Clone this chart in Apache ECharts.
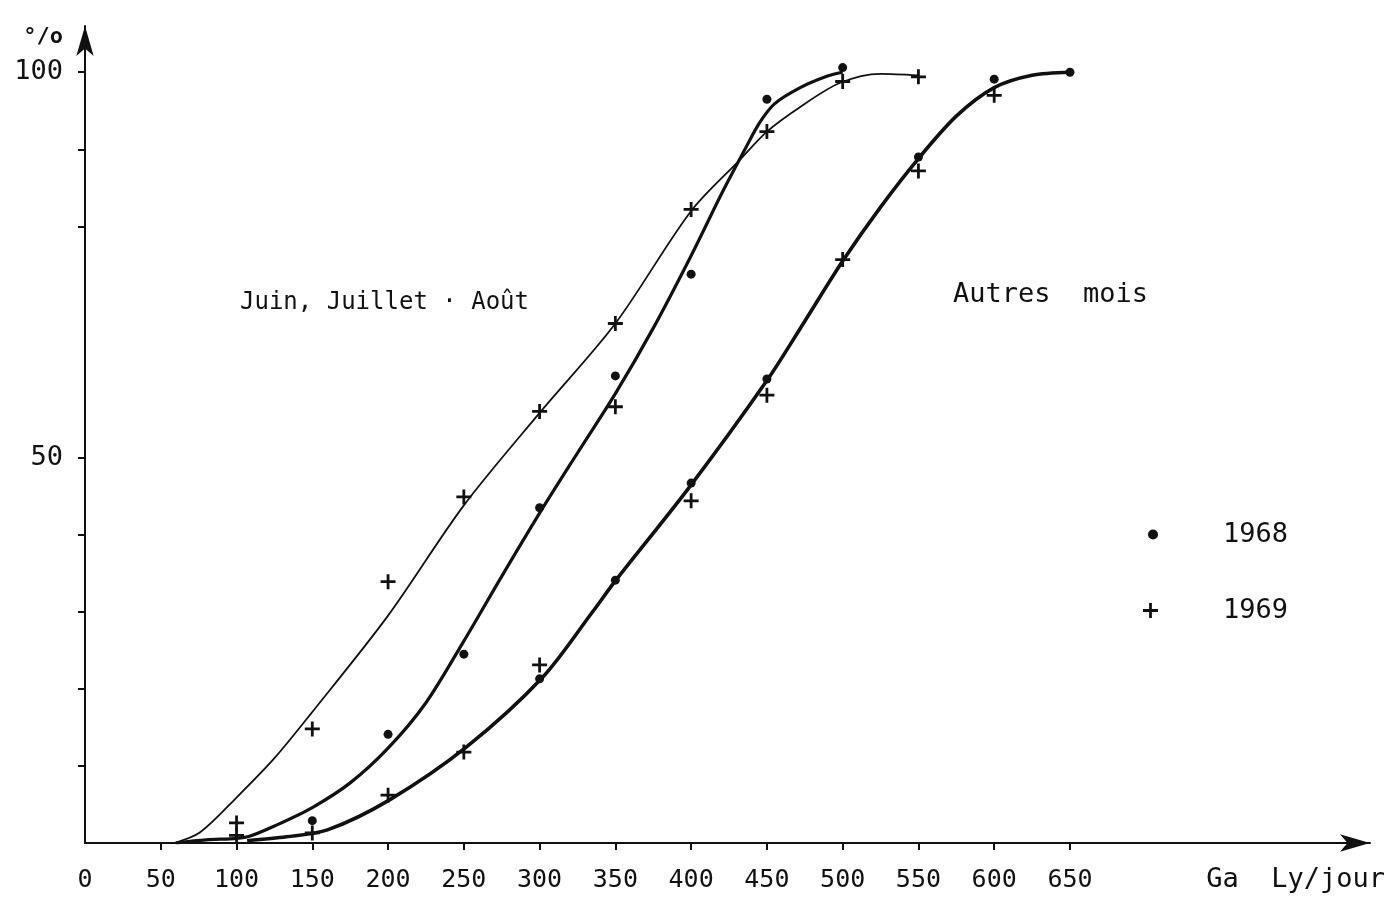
<!DOCTYPE html>
<html>
<head>
<meta charset="utf-8">
<script src="https://cdn.jsdelivr.net/npm/echarts@6/dist/echarts.min.js"></script>
<style>
html,body{margin:0;padding:0;background:#fff;}
#chart{width:1392px;height:898px;}
</style>
</head>
<body>
<div id="chart"></div>
<script>
// ---- data ----
const xTickValues = [50,100,150,200,250,300,350,400,450,500,550,600,650];
const xLabelValues = [0,50,100,150,200,250,300,350,400,450,500,550,600,650];
const yTickValues = [10,20,30,40,50,80,90,100];
const yLabelValues = [50,100];

// fitted curves (x = Ga Ly/jour, y = %)
const curveJuinThin = [[59,0],[76,1.4],[100,5.9],[125,11],[150,17],[200,29.5],[250,43.8],[300,55.8],[350,67.4],[400,82],[432,88.6],[450,92.3],[472,95.5],[498,98.6],[525,99.8],[550,99.6]];
const curveJuinThick = [[60,0],[80,0.4],[100,0.6],[109,0.9],[125,2.2],[150,4.6],[175,7.8],[200,12.3],[225,18.2],[250,26.2],[275,34.6],[300,42.8],[325,50.6],[350,58.3],[375,66.8],[400,76.2],[420,84.2],[435,89.8],[445,93.4],[455,95.9],[472,98],[490,99.5],[500,100]];
const curveAutres = [[107,0.3],[133,0.8],[160,1.7],[201,5.6],[252,12.5],[302,21.5],[335,30],[350,34],[399,46.2],[450,60],[475,67.7],[500,75.5],[525,82.5],[550,88.8],[575,94.3],[600,98],[625,99.6],[650,100]];

// observed points
const dots1968 = [[150,2.9],[200,14.1],[250,24.5],[300,43.5],[350,60.6],[400,73.8],[450,96.5],[500,100.6],
                  [300,21.3],[350,34.1],[400,46.7],[450,60.2],[550,89.0],[600,99.1],[650,100]];
const crosses1969 = [[100,2.6],[150,14.8],[200,33.9],[250,44.9],[300,56.0],[350,67.4],[400,82.2],[450,92.3],[500,98.8],[550,99.4],
                     [350,56.6],
                     [100,1.0],[150,1.3],[200,6.2],[250,11.8],[300,23.1],[400,44.4],[450,58.1],[500,75.7],[550,87.2],[600,97.0]];

const seriesNames = ['1968','1969'];
const labelJuin = 'Juin, Juillet · Août';
const labelAutres = 'Autres  mois';
const xName = 'Ga  Ly/jour';
const yName = '°/o';

// ---- chart ----
const FONT = '"DejaVu Sans Mono", monospace';
const INK = '#111';
const crossPath = 'path://M-1.3,-7H1.3V-1.3H7V1.3H1.3V7H-1.3V1.3H-7V-1.3H-1.3Z';

const chart = echarts.init(document.getElementById('chart'), null, {renderer:'canvas'});
chart.setOption({
  animation:false,
  backgroundColor:'#fff',
  grid:{left:85, right:22, top:26, bottom:55, containLabel:false},
  xAxis:{
    type:'value', min:0, max:848,
    name:xName, nameLocation:'end', nameGap:15,
    nameTextStyle:{color:INK, fontFamily:FONT, fontSize:27, align:'right', verticalAlign:'top', padding:[23,0,0,0]},
    axisLine:{show:true, symbol:['none','arrow'], symbolSize:[13,30], lineStyle:{color:INK, width:2}},
    axisTick:{show:true, customValues:xTickValues, length:7, lineStyle:{color:INK, width:2}},
    axisLabel:{customValues:xLabelValues, color:INK, fontFamily:FONT, fontSize:25, margin:25},
    splitLine:{show:false}
  },
  yAxis:{
    type:'value', min:0, max:106,
    name:yName, nameLocation:'end', nameGap:0,
    nameTextStyle:{color:INK, fontFamily:FONT, fontSize:22, fontWeight:'bold', align:'right', verticalAlign:'top', padding:[0,22,0,0]},
    axisLine:{show:true, symbol:['none','arrow'], symbolSize:[13,30], lineStyle:{color:INK, width:2}},
    axisTick:{show:true, customValues:yTickValues, length:7, lineStyle:{color:INK, width:2}},
    axisLabel:{customValues:yLabelValues, color:INK, fontFamily:FONT, fontSize:27, margin:22},
    splitLine:{show:false}
  },
  legend:[
    {data:[{name:seriesNames[0], icon:'circle'}], orient:'vertical', left:1143, top:516, itemWidth:10, itemHeight:10,
     textStyle:{color:INK, fontFamily:FONT, fontSize:27, padding:[0,0,0,60]}, selectedMode:false},
    {data:[{name:seriesNames[1], icon:crossPath}], orient:'vertical', left:1138, top:592, itemWidth:15, itemHeight:15,
     textStyle:{color:INK, fontFamily:FONT, fontSize:27, padding:[0,0,0,60]}, selectedMode:false}
  ],
  graphic:[
    {type:'text', x:240, y:303, style:{text:labelJuin, fill:INK, font:'24px '+FONT, verticalAlign:'middle'}},
    {type:'text', x:953, y:295, style:{text:labelAutres, fill:INK, font:'27px '+FONT, verticalAlign:'middle'}}
  ],
  series:[
    {name:'juin-thin', type:'line', data:curveJuinThin, smooth:0.3, showSymbol:false, symbol:'none',
     lineStyle:{color:INK, width:1.8}, z:2, silent:true},
    {name:'juin-thick', type:'line', data:curveJuinThick, smooth:0.3, showSymbol:false, symbol:'none',
     lineStyle:{color:INK, width:3.2}, z:2, silent:true},
    {name:'autres', type:'line', data:curveAutres, smooth:0.3, showSymbol:false, symbol:'none',
     lineStyle:{color:INK, width:3.6}, z:2, silent:true},
    {name:seriesNames[0], type:'scatter', data:dots1968, symbol:'circle', symbolSize:9, itemStyle:{color:INK, opacity:1}, z:3},
    {name:seriesNames[1], type:'scatter', data:crosses1969, symbol:crossPath, symbolSize:15, itemStyle:{color:INK, opacity:1}, z:3}
  ]
});
</script>
</body>
</html>
